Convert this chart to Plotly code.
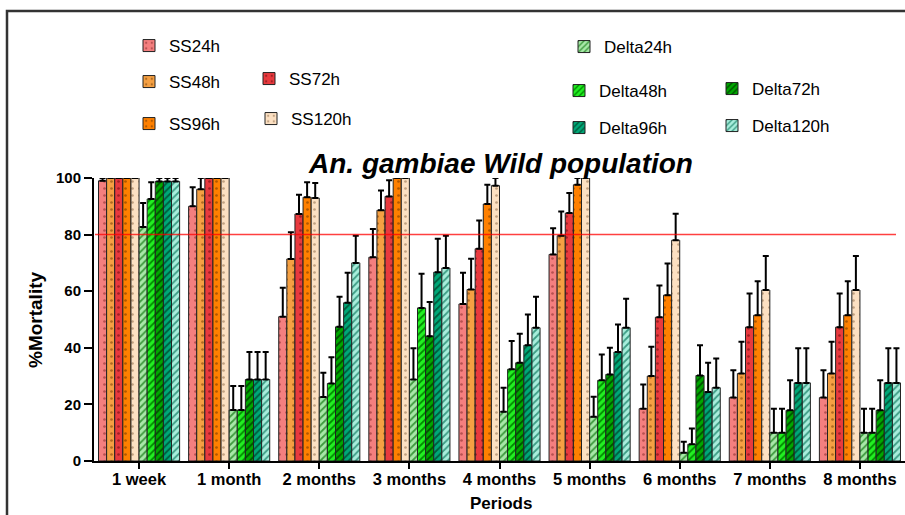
import plotly.graph_objects as go

periods = ["1 week", "1 month", "2 months", "3 months", "4 months",
           "5 months", "6 months", "7 months", "8 months"]

ss24 = [99, 90, 51, 72, 55.5, 73, 18.5, 22.4, 22.4]
ss24_sd = [1, 6.7, 10.2, 10, 11, 9.2, 8.5, 9.7, 9.7]
ss48 = [100, 96, 71.4, 88.6, 60.6, 79.6, 30, 30.9, 30.9]
ss48_sd = [0, 4, 9.4, 7, 10.9, 8.6, 10.4, 11.2, 11.2]
ss72 = [100, 100, 87.3, 93.5, 75, 87.6, 50.8, 47.3, 47.3]
ss72_sd = [0, 0, 6.8, 5.7, 10, 7.1, 11.2, 11.9, 11.9]
ss96 = [100, 100, 93.2, 100, 90.8, 97.6, 58.6, 51.5, 51.5]
ss96_sd = [0, 0, 5.3, 0, 6.8, 2.4, 11.2, 12, 12]
ss120 = [100, 100, 92.9, 100, 97.3, 100, 78, 60.4, 60.4]
ss120_sd = [0, 0, 5.3, 0, 2.7, 0, 9.4, 12, 12]

delta24 = [82.7, 18, 22.6, 28.8, 17.4, 15.6, 2.9, 10, 10]
delta24_sd = [8.5, 8.5, 8.6, 11, 8.5, 7.1, 3.9, 8.5, 8.5]
delta48 = [92.6, 18, 27.4, 54.1, 32.4, 28.5, 5.9, 10, 10]
delta48_sd = [5.9, 8.5, 9.3, 12.1, 10, 9.1, 5.6, 8.5, 8.5]
delta72 = [98.8, 28.8, 47.4, 44.1, 34.7, 30.6, 30.2, 17.9, 17.9]
delta72_sd = [1.2, 9.7, 10.6, 12.1, 10.3, 9.4, 10.7, 10.6, 10.6]
delta96 = [98.8, 28.8, 55.9, 66.7, 40.9, 38.5, 24.4, 27.6, 27.6]
delta96_sd = [1.2, 9.7, 10.6, 11.8, 10.9, 9.7, 10.3, 12.2, 12.2]
delta120 = [98.8, 28.8, 70, 68.2, 47.1, 47.1, 25.9, 27.6, 27.6]
delta120_sd = [1.2, 9.7, 9.6, 11.4, 10.9, 10.2, 10.3, 12.2, 12.2]

threshold = 80

W, H = 905, 515
L, R, T, B = 94, 0, 178, 54
PW, PH = W - L - R, H - T - B


def px_x(p):
    return (p - L) / PW


def px_y(p):
    return (H - B - p) / PH


FONT = "Liberation Sans, Arial, sans-serif"

# name, values, sd, color, pattern shape, pattern fg, legend id, legend pixel pos
series = [
    ("SS24h", ss24, ss24_sd, "#F47F7F", ".", "#B85050", "legend", (129, 46)),
    ("SS48h", ss48, ss48_sd, "#F5A043", ".", "#B06A20", "legend2", (129, 82)),
    ("SS72h", ss72, ss72_sd, "#E83A3E", ".", "#A02024", "legend3", (249, 79)),
    ("SS96h", ss96, ss96_sd, "#FF8000", ".", "#B05800", "legend4", (129, 124)),
    ("SS120h", ss120, ss120_sd, "#FCE0C2", ".", "#C0A080", "legend5", (251, 119)),
    ("Delta24h", delta24, delta24_sd, "#A8E8A8", "/", "#3E9A3E", "legend6", (564, 47)),
    ("Delta48h", delta48, delta48_sd, "#22F022", "/", "#008A00", "legend7", (559, 91)),
    ("Delta72h", delta72, delta72_sd, "#00A800", "/", "#005000", "legend8", (712, 89)),
    ("Delta96h", delta96, delta96_sd, "#00A878", "/", "#005C3C", "legend9", (559, 128)),
    ("Delta120h", delta120, delta120_sd, "#A8EEDC", "/", "#3C9C84", "legend10", (712, 126)),
]

fig = go.Figure()
legends = {}
for name, vals, sd, col, shp, fg, leg, (lx, ly) in series:
    fig.add_trace(go.Bar(
        x=periods, y=vals, name=name, legend=leg,
        marker=dict(
            color=col,
            line=dict(color="#222222", width=1),
            pattern=dict(shape=shp, fgcolor=fg, bgcolor=col,
                         size=5 if shp == "/" else 7,
                         solidity=0.35 if shp == "/" else 0.12,
                         fillmode="replace"),
        ),
        error_y=dict(type="data", symmetric=False, array=sd,
                     arrayminus=[0] * len(sd), color="black",
                     thickness=2, width=3),
        cliponaxis=False,
    ))
    legends[leg] = dict(
        x=px_x(lx), y=px_y(ly), xanchor="left", yanchor="middle",
        bgcolor="rgba(0,0,0,0)", borderwidth=0,
        font=dict(family=FONT, size=17, color="black"),
    )

fig.update_layout(
    width=W, height=H,
    margin=dict(l=L, r=R, t=T, b=B, pad=0),
    paper_bgcolor="white", plot_bgcolor="white",
    barmode="group", bargap=0.1, bargroupgap=0,
    showlegend=True,
    font=dict(family=FONT, color="black"),
    **legends,
)

fig.update_yaxes(
    range=[0, 100], tickvals=[0, 20, 40, 60, 80, 100],
    showgrid=False, zeroline=False,
    showline=True, linecolor="black", linewidth=2,
    ticks="outside", ticklen=8, tickwidth=2, tickcolor="black",
    tickfont=dict(family=FONT, size=15, color="black", weight="bold"),
)
fig.update_xaxes(
    showgrid=False, showline=True, linecolor="black", linewidth=2,
    ticks="outside", ticklen=6, tickwidth=2, tickcolor="black",
    ticklabelstandoff=-4,
    tickfont=dict(family=FONT, size=16.5, color="black", weight="bold"),
)

# threshold line
fig.add_shape(type="line", xref="paper", yref="y",
              x0=px_x(95), x1=px_x(896), y0=threshold, y1=threshold,
              line=dict(color="rgba(255,0,0,0.75)", width=1.5), layer="above")

# outer frame (top and left)
fig.add_shape(type="path", xref="paper", yref="paper",
              path=f"M {px_x(7)},{px_y(530)} L {px_x(7)},{px_y(11)} L {px_x(920)},{px_y(11)}",
              line=dict(color="#333333", width=2.5))

# title and axis titles
fig.add_annotation(text="An. gambiae Wild population", xref="paper", yref="paper",
                   x=px_x(500), y=px_y(163), xanchor="center", yanchor="middle",
                   showarrow=False,
                   font=dict(family=FONT, size=28, color="black", weight="bold", style="italic"))
fig.add_annotation(text="Periods", xref="paper", yref="paper",
                   x=px_x(501), y=px_y(503), xanchor="center", yanchor="middle",
                   showarrow=False,
                   font=dict(family=FONT, size=17, color="black", weight="bold"))
fig.add_annotation(text="%Mortality", xref="paper", yref="paper",
                   x=px_x(35), y=px_y(320), xanchor="center", yanchor="middle",
                   textangle=-90, showarrow=False,
                   font=dict(family=FONT, size=19, color="black", weight="bold"))

fig.write_html("out.html", config={"displayModeBar": False},
               post_script="document.body.style.margin='0';document.body.style.overflow='hidden';")
